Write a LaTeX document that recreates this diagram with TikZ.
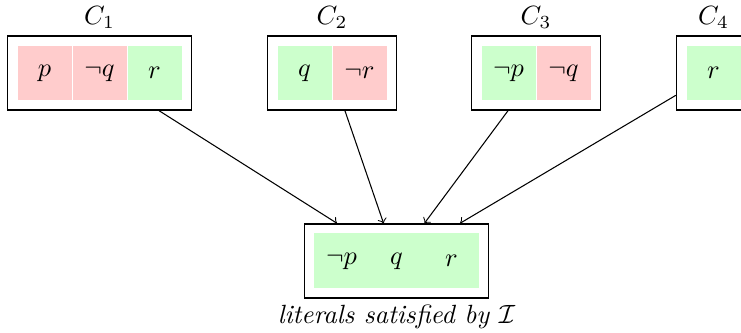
\documentclass[tikz,border=0pt]{standalone}
\usetikzlibrary{fit}
\definecolor{fred}{RGB}{255,204,204}
\definecolor{fgreen}{RGB}{204,255,204}
\begin{document}
\begin{tikzpicture}[x=0.379pt,y=-0.379pt,
  cell/.style={minimum width=20.85pt,minimum height=20.85pt,inner sep=0pt,draw=white,line width=0.3pt},
  negcell/.style={cell,fill=fred},
  poscell/.style={cell,fill=fgreen},
  joincell/.style={cell,fill=fgreen,draw=none},
  clause/.style={draw,line width=0.6pt,inner sep=3.41pt},
  conn/.style={->,line width=0.4pt}]
\clip (0,0) rectangle (741,333);
% C1
\node[negcell] (c1a) at (44.5,73) {$p$};
\node[negcell] (c1b) at (99.5,73) {$\neg q$};
\node[poscell] (c1c) at (154.5,73) {$r$};
\node[clause,fit=(c1a)(c1c),label={[label distance=-1pt]above:$C_1$}] (c1) {};
% C2
\node[poscell] (c2a) at (304.5,73) {$q$};
\node[negcell] (c2b) at (359.5,73) {$\neg r$};
\node[clause,fit=(c2a)(c2b),label={[label distance=-1pt]above:$C_2$}] (c2) {};
% C3
\node[poscell] (c3a) at (508.5,73) {$\neg p$};
\node[negcell] (c3b) at (563.5,73) {$\neg q$};
\node[clause,fit=(c3a)(c3b),label={[label distance=-1pt]above:$C_3$}] (c3) {};
% C4
\node[poscell] (c4a) at (713.5,73) {$r$};
\node[clause,fit=(c4a),label={[label distance=-1pt]above:$C_4$}] (c4) {};
% result
\node[joincell] (ra) at (341.5,261) {$\neg p$};
\node[joincell] (rb) at (396.5,261) {$q$};
\node[joincell] (rc) at (451.5,261) {$r$};
\node[clause,fit=(ra)(rc),label={[label distance=-1pt]below:\textit{literals satisfied by} $\mathcal{I}$}] (res) {};
% connectors
\draw[conn] (c1) -- (res);
\draw[conn] (c2) -- (res);
\draw[conn] (c3) -- (res);
\draw[conn] (c4) -- (res);
\end{tikzpicture}
\end{document}
